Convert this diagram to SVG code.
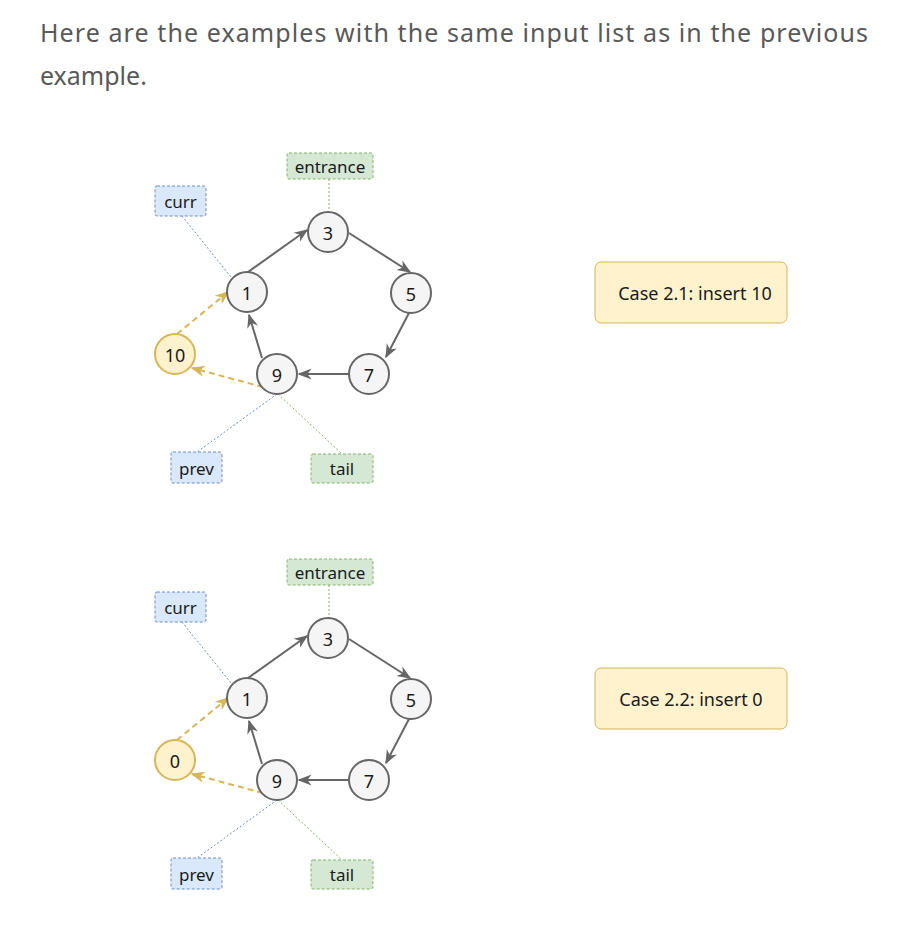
<svg xmlns="http://www.w3.org/2000/svg" width="920" height="938" viewBox="0 0 920 938">
<style>
.hdr{font-family:"Noto Sans","Liberation Sans",sans-serif;font-size:25px;fill:#595959}
.t{font-family:"Comic Sans MS","Noto Sans",sans-serif;font-size:17px;fill:#1a1a1a;text-anchor:middle;dominant-baseline:central}
.num{font-size:18px}
.cs{font-size:18px}
.node{fill:#f5f5f5;stroke:#666;stroke-width:2}
.ins{fill:#fff2cc;stroke:#d6b656;stroke-width:2}
.blue{fill:#dae8fc;stroke:#6c8ebf;stroke-width:1;stroke-dasharray:3,2}
.green{fill:#d5e8d4;stroke:#82b366;stroke-width:1;stroke-dasharray:3,2}
.case{fill:#fff2cc;stroke:#d6b656;stroke-width:1}
.e{fill:none;stroke:#666;stroke-width:2;marker-end:url(#ah)}
.g{fill:none;stroke:#d6b656;stroke-width:2;stroke-dasharray:6,4;marker-end:url(#ahg)}
.db{fill:none;stroke:#6c8ebf;stroke-width:1;stroke-dasharray:2,2}
.dg{fill:none;stroke:#82b366;stroke-width:1;stroke-dasharray:2,2}
</style>
<defs>
<marker id="ah" viewBox="0 0 10 10" refX="9" refY="5" markerWidth="14" markerHeight="14" markerUnits="userSpaceOnUse" orient="auto"><path d="M0,1 L10,5 L0,9 L3,5 z" fill="#666"/></marker>
<marker id="ahg" viewBox="0 0 10 10" refX="9" refY="5" markerWidth="14" markerHeight="14" markerUnits="userSpaceOnUse" orient="auto"><path d="M0,1 L10,5 L0,9 L3,5 z" fill="#d6b656"/></marker>
</defs>
<text class="hdr" x="40" y="42" textLength="828">Here are the examples with the same input list as in the previous</text>
<text class="hdr" x="40" y="85">example.</text>

<g id="diagram1">
<g id="d1-connectors">
<path class="e" d="M248,272 L307,230"/>
<path class="e" d="M349,233 L410,272"/>
<path class="e" d="M409,313 L386,357"/>
<path class="e" d="M349,374 L299,374"/>
<path class="e" d="M262,358 L249,315"/>
<path class="g" d="M177,334 L228,292"/>
<path class="g" d="M263,387 L192,368"/>
<path class="db" d="M182,216 L231,277"/>
<path class="dg" d="M329,179 L329,212"/>
<path class="db" d="M277,394 L197,452"/>
<path class="dg" d="M278,394 L342,454"/>
</g>
<g id="d1-entrance"><rect class="green" x="287" y="153" width="86" height="26" rx="2"/><text class="t" x="330" y="166">entrance</text></g>
<g id="d1-curr"><rect class="blue" x="155" y="186" width="51" height="30" rx="2"/><text class="t" x="180.5" y="201">curr</text></g>
<g id="d1-prev"><rect class="blue" x="171" y="452" width="51" height="31" rx="2"/><text class="t" x="196.5" y="468">prev</text></g>
<g id="d1-tail"><rect class="green" x="311" y="454" width="62" height="29" rx="2"/><text class="t" x="342" y="468.5">tail</text></g>
<g id="d1-n3"><circle class="node" cx="328" cy="232" r="20"/><text class="t num" x="328" y="233">3</text></g>
<g id="d1-n1"><circle class="node" cx="247" cy="292" r="20"/><text class="t num" x="247" y="293">1</text></g>
<g id="d1-n5"><circle class="node" cx="411" cy="293" r="20"/><text class="t num" x="411" y="294">5</text></g>
<g id="d1-n7"><circle class="node" cx="369" cy="374" r="20"/><text class="t num" x="369" y="375">7</text></g>
<g id="d1-n9"><circle class="node" cx="277" cy="374" r="20"/><text class="t num" x="277" y="375">9</text></g>
<g id="d1-n10"><circle class="ins" cx="175" cy="354" r="20"/><text class="t num" x="175" y="355">10</text></g>
<g id="d1-case"><rect class="case" x="595" y="262" width="192" height="61" rx="6"/><text class="t cs" x="695" y="292.5">Case 2.1: insert 10</text></g>
</g>

<g id="diagram2" transform="translate(0,406)">
<g id="d2-connectors">
<path class="e" d="M248,272 L307,230"/>
<path class="e" d="M349,233 L410,272"/>
<path class="e" d="M409,313 L386,357"/>
<path class="e" d="M349,374 L299,374"/>
<path class="e" d="M262,358 L249,315"/>
<path class="g" d="M177,334 L228,292"/>
<path class="g" d="M263,387 L192,368"/>
<path class="db" d="M182,216 L231,277"/>
<path class="dg" d="M329,179 L329,212"/>
<path class="db" d="M277,394 L197,452"/>
<path class="dg" d="M278,394 L342,454"/>
</g>
<g id="d2-entrance"><rect class="green" x="287" y="153" width="86" height="26" rx="2"/><text class="t" x="330" y="166">entrance</text></g>
<g id="d2-curr"><rect class="blue" x="155" y="186" width="51" height="30" rx="2"/><text class="t" x="180.5" y="201">curr</text></g>
<g id="d2-prev"><rect class="blue" x="171" y="452" width="51" height="31" rx="2"/><text class="t" x="196.5" y="468">prev</text></g>
<g id="d2-tail"><rect class="green" x="311" y="454" width="62" height="29" rx="2"/><text class="t" x="342" y="468.5">tail</text></g>
<g id="d2-n3"><circle class="node" cx="328" cy="232" r="20"/><text class="t num" x="328" y="233">3</text></g>
<g id="d2-n1"><circle class="node" cx="247" cy="292" r="20"/><text class="t num" x="247" y="293">1</text></g>
<g id="d2-n5"><circle class="node" cx="411" cy="293" r="20"/><text class="t num" x="411" y="294">5</text></g>
<g id="d2-n7"><circle class="node" cx="369" cy="374" r="20"/><text class="t num" x="369" y="375">7</text></g>
<g id="d2-n9"><circle class="node" cx="277" cy="374" r="20"/><text class="t num" x="277" y="375">9</text></g>
<g id="d2-n0"><circle class="ins" cx="175" cy="354" r="20"/><text class="t num" x="175" y="355">0</text></g>
<g id="d2-case"><rect class="case" x="595" y="262" width="192" height="61" rx="6"/><text class="t cs" x="691" y="292.5">Case 2.2: insert 0</text></g>
</g>
</svg>
